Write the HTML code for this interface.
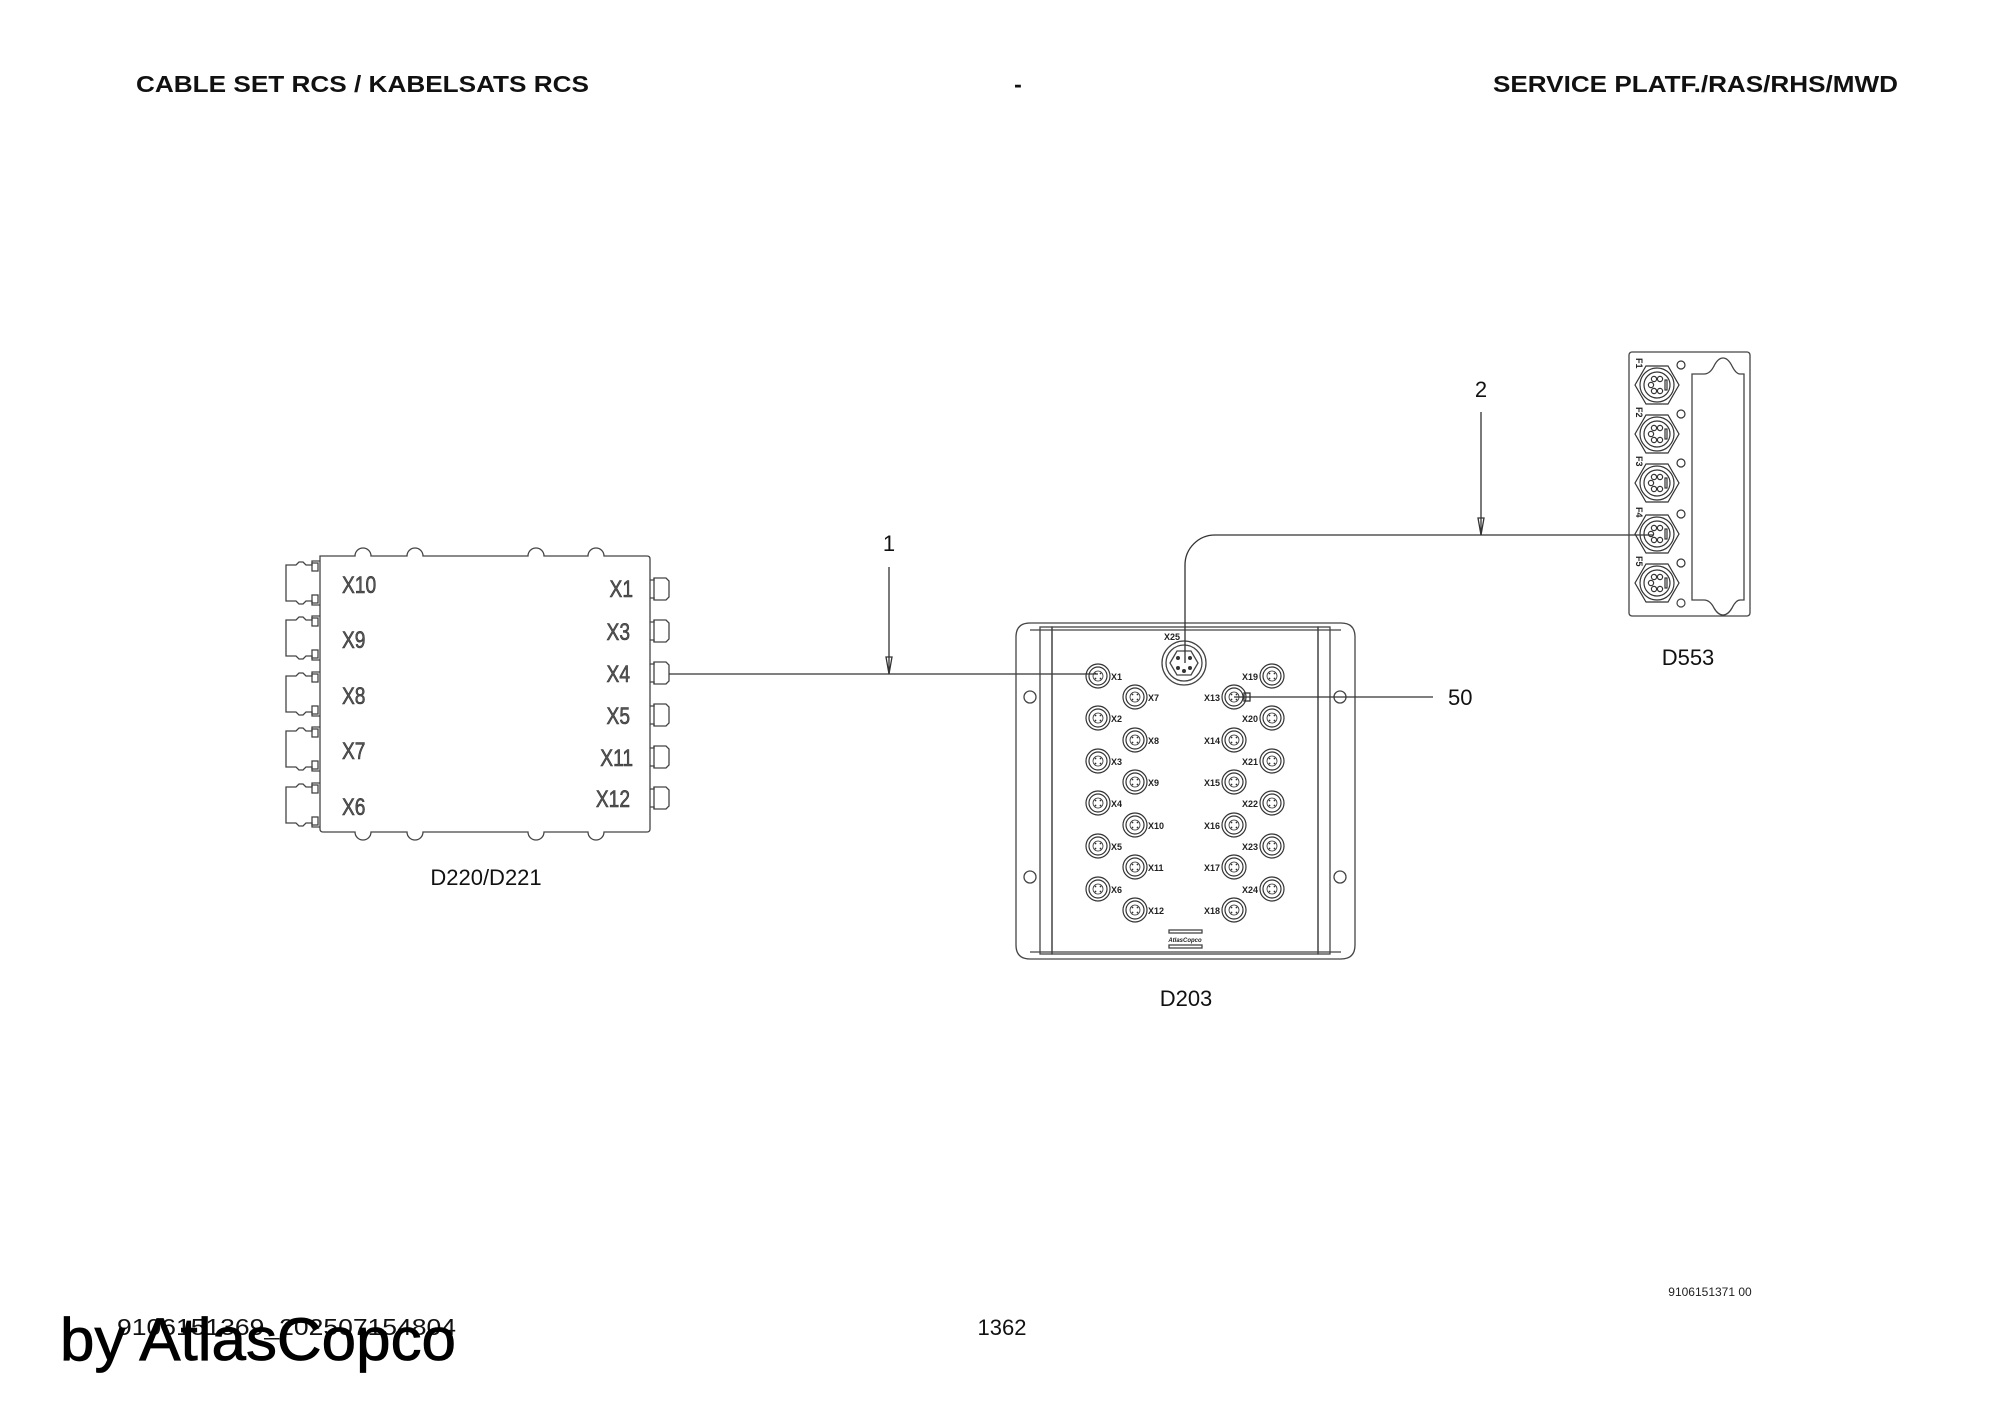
<!DOCTYPE html>
<html><head><meta charset="utf-8"><style>html,body{margin:0;padding:0;background:#fff}svg{display:block}</style></head>
<body>
<svg width="2000" height="1414" viewBox="0 0 2000 1414" xmlns="http://www.w3.org/2000/svg" font-family="Liberation Sans, Arial, sans-serif">
<defs>
<g id="m12" fill="none" stroke="#333" stroke-width="1.2">
<circle r="12"/><circle r="9"/><circle r="5" stroke-width="0.8"/>
<g fill="#333" stroke="none"><circle cx="-2.5" cy="-2.5" r="0.9"/><circle cx="2.5" cy="-2.5" r="0.9"/><circle cx="-2.5" cy="2.5" r="0.9"/><circle cx="2.5" cy="2.5" r="0.9"/></g>
</g>
<g id="hex" fill="none" stroke="#333" stroke-width="1.2">
<polygon points="-22,0 -11,-19 11,-19 22,0 11,19 -11,19"/>
<circle r="17"/><circle r="13"/>
<circle cx="-3" cy="-6" r="2.6"/><circle cx="3" cy="-6" r="2.6"/><circle cx="-6" cy="0" r="2.6"/><circle cx="-3" cy="6" r="2.6"/><circle cx="3" cy="6" r="2.6"/>
<rect x="8" y="-5" width="2" height="10"/>
<circle cx="24" cy="-20" r="4"/>
</g>
<g id="lc" fill="none" stroke="#444" stroke-width="1.3">
<path d="M320,-22 H312 V-18 H306 l-3,-3 h-4 l-3,3 h-10 V18 h10 l3,3 h4 l3,-3 h6 V22 H320"/>
<rect x="312" y="-20" width="6" height="8"/><rect x="312" y="12" width="6" height="8"/>
</g>
<g id="rc" fill="none" stroke="#444" stroke-width="1.3">
<path d="M650,-9 h4 v-2 h12 l3,3 v16 l-3,3 h-12 v-2 h-4"/>
<line x1="654" y1="-11" x2="654" y2="11"/>
</g>
</defs>

<!-- header -->
<g font-weight="bold" font-size="23" fill="#111">
<text x="136" y="92" textLength="453" lengthAdjust="spacingAndGlyphs">CABLE SET RCS / KABELSATS RCS</text>
<text x="1018" y="92" text-anchor="middle">-</text>
<text x="1493" y="92" textLength="405" lengthAdjust="spacingAndGlyphs">SERVICE PLATF./RAS/RHS/MWD</text>
</g>

<!-- D220/D221 -->
<g fill="none" stroke="#444" stroke-width="1.3">
<path d="M320,556 H355 a8,8 0 0 1 16,0 H407 a8,8 0 0 1 16,0 H528 a8,8 0 0 1 16,0 H588 a8,8 0 0 1 16,0 H647 q3,0 3,3 V829 q0,3 -3,3 H604 a8,8 0 0 1 -16,0 H544 a8,8 0 0 1 -16,0 H423 a8,8 0 0 1 -16,0 H371 a8,8 0 0 1 -16,0 H323 q-3,0 -3,-3 Z"/>
</g>
<use href="#lc" y="583"/><use href="#lc" y="638"/><use href="#lc" y="694"/><use href="#lc" y="749"/><use href="#lc" y="805"/>
<use href="#rc" y="589"/><use href="#rc" y="631"/><use href="#rc" y="673"/><use href="#rc" y="715"/><use href="#rc" y="757"/><use href="#rc" y="798"/>
<g font-size="24" fill="#555" stroke="#333" stroke-width="0.6">
<text x="342" y="593" transform="translate(342 0) scale(0.8 1) translate(-342 0)">X10</text>
<text x="342" y="648" transform="translate(342 0) scale(0.8 1) translate(-342 0)">X9</text>
<text x="342" y="704" transform="translate(342 0) scale(0.8 1) translate(-342 0)">X8</text>
<text x="342" y="759" transform="translate(342 0) scale(0.8 1) translate(-342 0)">X7</text>
<text x="342" y="815" transform="translate(342 0) scale(0.8 1) translate(-342 0)">X6</text>
<g text-anchor="end">
<text x="633" y="597" transform="translate(633 0) scale(0.8 1) translate(-633 0)">X1</text>
<text x="630" y="640" transform="translate(630 0) scale(0.8 1) translate(-630 0)">X3</text>
<text x="630" y="682" transform="translate(630 0) scale(0.8 1) translate(-630 0)">X4</text>
<text x="630" y="724" transform="translate(630 0) scale(0.8 1) translate(-630 0)">X5</text>
<text x="633" y="766" transform="translate(633 0) scale(0.8 1) translate(-633 0)">X11</text>
<text x="630" y="807" transform="translate(630 0) scale(0.8 1) translate(-630 0)">X12</text>
</g>
</g>
<text x="486" y="885" font-size="22" text-anchor="middle" fill="#111">D220/D221</text>

<!-- cable 1 -->
<g stroke="#333" stroke-width="1.3" fill="none">
<line x1="669" y1="674" x2="1098" y2="674"/>
<line x1="889" y1="567" x2="889" y2="674"/>
<path d="M886,657 L889,674 L892,657 Z"/>
</g>
<text x="889" y="551" font-size="22" text-anchor="middle" fill="#111">1</text>

<!-- D203 -->
<g fill="none" stroke="#444" stroke-width="1.3">
<path d="M1030,623 H1341 q14,0 14,14 V945 q0,14 -14,14 H1030 q-14,0 -14,-14 V637 q0,-14 14,-14 Z"/>
<rect x="1040" y="627" width="12" height="327"/>
<rect x="1318" y="627" width="12" height="327"/>
<rect x="1052" y="627" width="266" height="327"/>
<line x1="1030" y1="630" x2="1341" y2="630"/>
<line x1="1030" y1="952" x2="1341" y2="952"/>
<circle cx="1030" cy="697" r="6"/><circle cx="1030" cy="877" r="6"/>
<circle cx="1340" cy="697" r="6"/><circle cx="1340" cy="877" r="6"/>
<circle cx="1184" cy="663" r="22"/><circle cx="1184" cy="663" r="18"/>
<polygon points="1170,663 1177,651 1191,651 1198,663 1191,675 1177,675"/>
<g fill="#333" stroke="none"><circle cx="1178" cy="658" r="2"/><circle cx="1190" cy="658" r="2"/><circle cx="1178" cy="668" r="2"/><circle cx="1190" cy="668" r="2"/><circle cx="1184" cy="671" r="2"/></g>
<rect x="1169" y="930" width="33" height="3"/><rect x="1169" y="945" width="33" height="3"/>
</g>
<text x="1185" y="942" font-size="6" font-style="italic" font-weight="bold" text-anchor="middle" fill="#222">AtlasCopco</text>
<g>
<use href="#m12" x="1098" y="676"/><use href="#m12" x="1098" y="718"/><use href="#m12" x="1098" y="761"/><use href="#m12" x="1098" y="803"/><use href="#m12" x="1098" y="846"/><use href="#m12" x="1098" y="889"/>
<use href="#m12" x="1135" y="697"/><use href="#m12" x="1135" y="740"/><use href="#m12" x="1135" y="782"/><use href="#m12" x="1135" y="825"/><use href="#m12" x="1135" y="867"/><use href="#m12" x="1135" y="910"/>
<use href="#m12" x="1234" y="697"/><use href="#m12" x="1234" y="740"/><use href="#m12" x="1234" y="782"/><use href="#m12" x="1234" y="825"/><use href="#m12" x="1234" y="867"/><use href="#m12" x="1234" y="910"/>
<use href="#m12" x="1272" y="676"/><use href="#m12" x="1272" y="718"/><use href="#m12" x="1272" y="761"/><use href="#m12" x="1272" y="803"/><use href="#m12" x="1272" y="846"/><use href="#m12" x="1272" y="889"/>
</g>
<g font-size="9" font-weight="bold" fill="#222">
<text x="1111" y="680">X1</text><text x="1111" y="722">X2</text><text x="1111" y="765">X3</text><text x="1111" y="807">X4</text><text x="1111" y="850">X5</text><text x="1111" y="893">X6</text>
<text x="1148" y="701">X7</text><text x="1148" y="744">X8</text><text x="1148" y="786">X9</text><text x="1148" y="829">X10</text><text x="1148" y="871">X11</text><text x="1148" y="914">X12</text>
<g text-anchor="end">
<text x="1220" y="701">X13</text><text x="1220" y="744">X14</text><text x="1220" y="786">X15</text><text x="1220" y="829">X16</text><text x="1220" y="871">X17</text><text x="1220" y="914">X18</text>
<text x="1258" y="680">X19</text><text x="1258" y="722">X20</text><text x="1258" y="765">X21</text><text x="1258" y="807">X22</text><text x="1258" y="850">X23</text><text x="1258" y="893">X24</text>
</g>
<text x="1164" y="640">X25</text>
</g>
<text x="1186" y="1006" font-size="22" text-anchor="middle" fill="#111">D203</text>

<!-- pos 50 -->
<g stroke="#333" stroke-width="1.3" fill="none">
<line x1="1234" y1="697" x2="1433" y2="697"/>
<rect x="1244" y="693" width="6" height="8"/>
</g>
<text x="1448" y="705" font-size="22" fill="#111">50</text>

<!-- cable 2 -->
<g stroke="#333" stroke-width="1.3" fill="none">
<path d="M1185,663 V565 a30,30 0 0 1 30,-30 H1653"/>
<line x1="1481" y1="412" x2="1481" y2="535"/>
<path d="M1478,518 L1481,535 L1484,518 Z"/>
</g>
<text x="1481" y="397" font-size="22" text-anchor="middle" fill="#111">2</text>

<!-- D553 -->
<g fill="none" stroke="#444" stroke-width="1.3">
<rect x="1629" y="352" width="121" height="264" rx="3"/>
<path d="M1692,374 H1704 q6,0 10,-8 q4,-8 9,-8 q5,0 9,8 q4,8 8,8 H1744 V600 H1740 q-4,0 -8,8 q-4,7 -9,7 q-5,0 -9,-7 q-4,-8 -10,-8 H1692 Z"/>
</g>
<use href="#hex" x="1657" y="385"/><use href="#hex" x="1657" y="434"/><use href="#hex" x="1657" y="483"/><use href="#hex" x="1657" y="534"/><use href="#hex" x="1657" y="583"/>
<circle cx="1681" cy="603" r="4" fill="none" stroke="#444" stroke-width="1.2"/>
<g font-size="9" font-weight="bold" fill="#222">
<text transform="translate(1636 358) rotate(90)">F1</text>
<text transform="translate(1636 407) rotate(90)">F2</text>
<text transform="translate(1636 456) rotate(90)">F3</text>
<text transform="translate(1636 507) rotate(90)">F4</text>
<text transform="translate(1636 556) rotate(90)">F5</text>
</g>
<text x="1688" y="665" font-size="22" text-anchor="middle" fill="#111">D553</text>

<!-- footer -->
<text x="1710" y="1296" font-size="12" text-anchor="middle" fill="#222">9106151371 00</text>
<text x="1002" y="1335" font-size="22" text-anchor="middle" fill="#111">1362</text>
<text x="117" y="1335" font-size="23" fill="#111" textLength="339" lengthAdjust="spacingAndGlyphs">9106151369_202507154804</text>
<text x="60" y="1360" font-size="60" fill="#000" stroke="#000" stroke-width="0.8" textLength="396" lengthAdjust="spacingAndGlyphs">by AtlasCopco</text>
</svg>
</body></html>
